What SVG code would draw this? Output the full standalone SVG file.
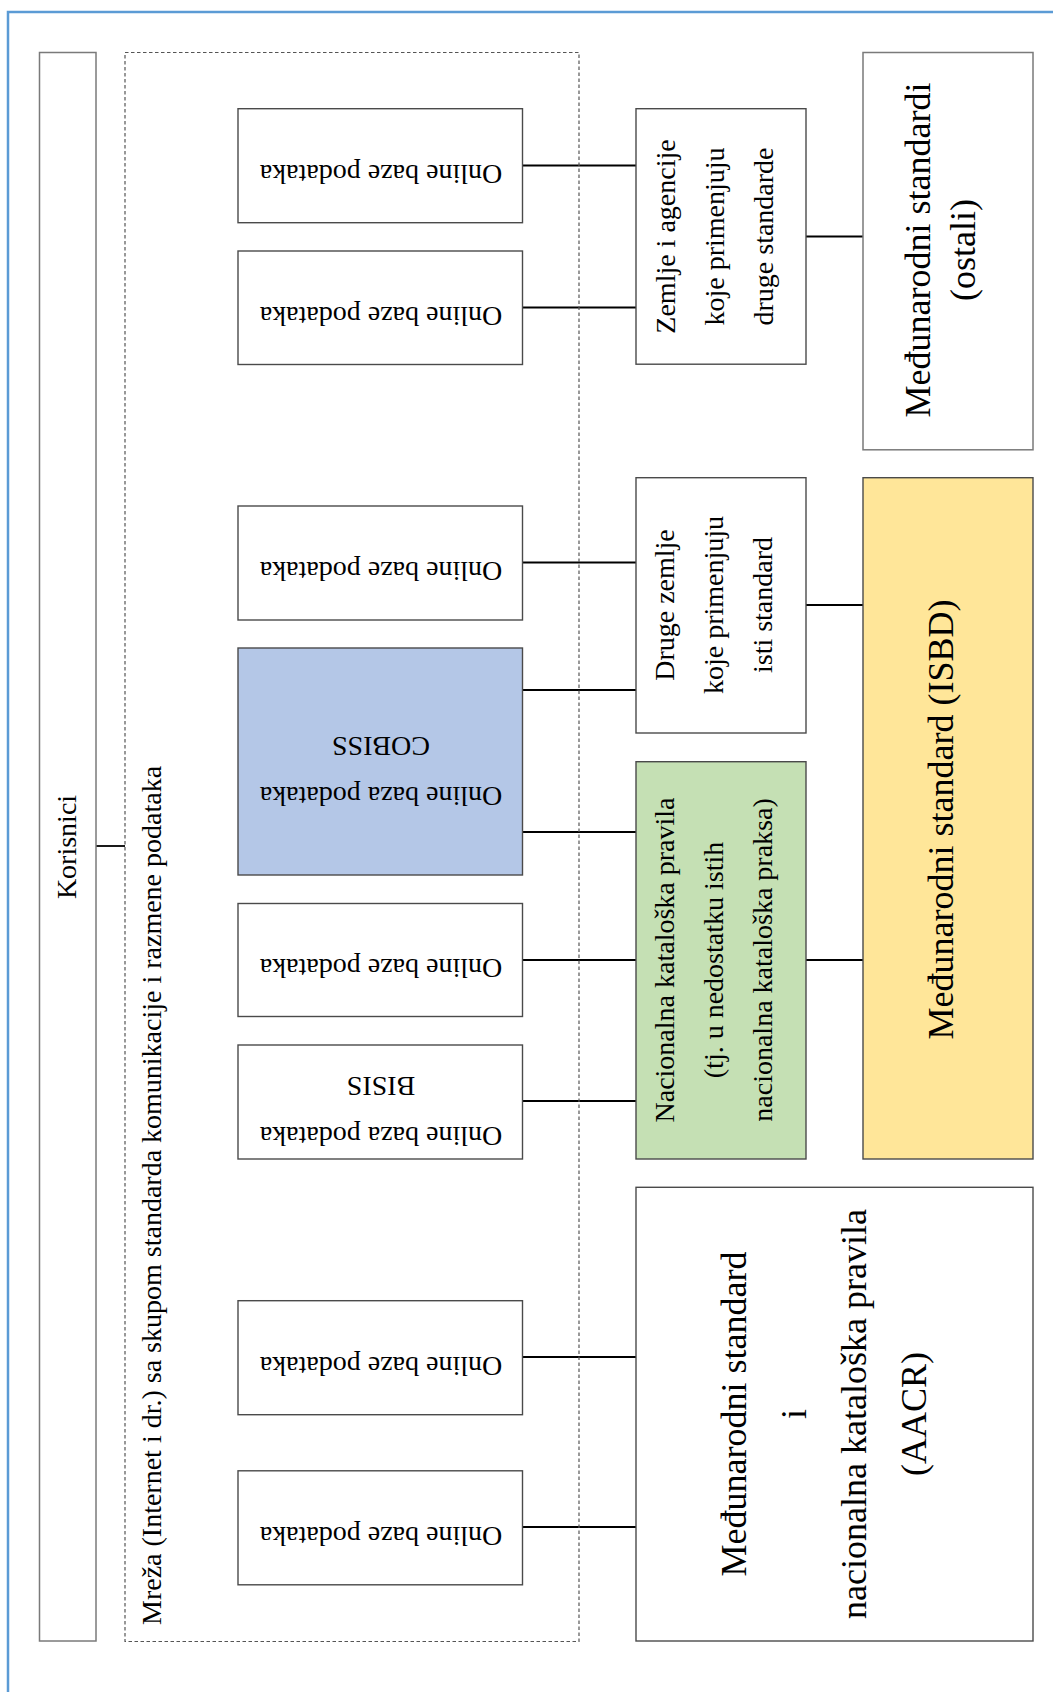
<svg xmlns="http://www.w3.org/2000/svg" width="1053" height="1692" viewBox="0 0 1053 1692">
<style>
.box{fill:#ffffff;stroke:#4a4a4a;stroke-width:1.4}
.gray{fill:#ffffff;stroke:#7a7a7a;stroke-width:1.5}
.dash{fill:none;stroke:#555555;stroke-width:1.2;stroke-dasharray:3.5 2.5}
.t{font-family:"Liberation Serif","Times New Roman",serif;fill:#000000}
.s28{font-size:28px}
.s36{font-size:36px}
.c{stroke:#000000;stroke-width:1.8;fill:none}
</style>
<rect x="0" y="0" width="1053" height="1692" fill="#ffffff"/>
<rect id="frame" x="8" y="12" width="1080" height="1720" fill="none" stroke="#5b9bd5" stroke-width="2.5"/>

<g id="connectors">
<line class="c" x1="96" y1="846" x2="125" y2="846"/>
<line class="c" x1="522.5" y1="165.5" x2="636" y2="165.5"/>
<line class="c" x1="522.5" y1="307.5" x2="636" y2="307.5"/>
<line class="c" x1="806" y1="236.5" x2="863" y2="236.5"/>
<line class="c" x1="522.5" y1="562.5" x2="636" y2="562.5"/>
<line class="c" x1="522.5" y1="690" x2="636" y2="690"/>
<line class="c" x1="806" y1="605" x2="863" y2="605"/>
<line class="c" x1="522.5" y1="832" x2="636" y2="832"/>
<line class="c" x1="522.5" y1="960" x2="636" y2="960"/>
<line class="c" x1="806" y1="960" x2="863" y2="960"/>
<line class="c" x1="522.5" y1="1101" x2="636" y2="1101"/>
<line class="c" x1="522.5" y1="1357" x2="636" y2="1357"/>
<line class="c" x1="522.5" y1="1527" x2="636" y2="1527"/>
</g>

<g id="korisnici">
<rect class="gray" x="39.5" y="52.5" width="56.5" height="1588.5"/>
<text class="t s28" text-anchor="middle" transform="translate(76,847) rotate(-90)">Korisnici</text>
</g>

<g id="mreza">
<rect class="dash" x="125" y="52.5" width="454" height="1589"/>
<text class="t s28" text-anchor="start" transform="translate(161,1625) rotate(-90)">Mreža (Internet i dr.) sa skupom standarda komunikacije i razmene podataka</text>
</g>

<g id="db1">
<rect class="box" x="238" y="108.7" width="284.5" height="114"/>
<text class="t s28" text-anchor="middle" transform="translate(381,165) rotate(180)">Online baze podataka</text>
</g>
<g id="db2">
<rect class="box" x="238" y="251" width="284.5" height="113.5"/>
<text class="t s28" text-anchor="middle" transform="translate(381,307) rotate(180)">Online baze podataka</text>
</g>
<g id="db3">
<rect class="box" x="238" y="506" width="284.5" height="114"/>
<text class="t s28" text-anchor="middle" transform="translate(381,562) rotate(180)">Online baze podataka</text>
</g>
<g id="cobiss">
<rect class="box" x="238" y="648" width="284.5" height="227" style="fill:#b4c7e7"/>
<text class="t s28" text-anchor="middle" transform="translate(381,787) rotate(180)">Online baza podataka</text>
<text class="t s28" text-anchor="middle" transform="translate(381,737) rotate(180)">COBISS</text>
</g>
<g id="db5">
<rect class="box" x="238" y="903.5" width="284.5" height="113"/>
<text class="t s28" text-anchor="middle" transform="translate(381,959) rotate(180)">Online baze podataka</text>
</g>
<g id="bisis">
<rect class="box" x="238" y="1045" width="284.5" height="114"/>
<text class="t s28" text-anchor="middle" transform="translate(381,1127) rotate(180)">Online baza podataka</text>
<text class="t s28" text-anchor="middle" transform="translate(381,1077) rotate(180)">BISIS</text>
</g>
<g id="db6">
<rect class="box" x="238" y="1300.7" width="284.5" height="114"/>
<text class="t s28" text-anchor="middle" transform="translate(381,1357) rotate(180)">Online baze podataka</text>
</g>
<g id="db7">
<rect class="box" x="238" y="1470.8" width="284.5" height="114"/>
<text class="t s28" text-anchor="middle" transform="translate(381,1527) rotate(180)">Online baze podataka</text>
</g>

<g id="zemlje">
<rect class="box" x="636" y="108.7" width="170" height="255.5"/>
<text class="t s28" text-anchor="middle" transform="translate(675,236.5) rotate(-90)">Zemlje i agencije</text>
<text class="t s28" text-anchor="middle" transform="translate(724,236.5) rotate(-90)">koje primenjuju</text>
<text class="t s28" text-anchor="middle" transform="translate(773,236.5) rotate(-90)">druge standarde</text>
</g>
<g id="druge">
<rect class="box" x="636" y="477.7" width="170" height="255.3"/>
<text class="t s28" text-anchor="middle" transform="translate(674,605) rotate(-90)">Druge zemlje</text>
<text class="t s28" text-anchor="middle" transform="translate(723,605) rotate(-90)">koje primenjuju</text>
<text class="t s28" text-anchor="middle" transform="translate(772,605) rotate(-90)">isti standard</text>
</g>
<g id="nacionalna">
<rect class="box" x="636" y="761.7" width="170" height="397.3" style="fill:#c5e0b4"/>
<text class="t s28" text-anchor="middle" transform="translate(674,960) rotate(-90)">Nacionalna kataloška pravila</text>
<text class="t s28" text-anchor="middle" transform="translate(723,960) rotate(-90)">(tj. u nedostatku istih</text>
<text class="t s28" text-anchor="middle" transform="translate(772,960) rotate(-90)">nacionalna kataloška praksa)</text>
</g>
<g id="aacr">
<rect class="box" x="636" y="1187.3" width="397" height="453.7"/>
<text class="t s36" text-anchor="middle" transform="translate(746,1414) rotate(-90)">Međunarodni standard</text>
<text class="t s36" text-anchor="middle" transform="translate(806,1414) rotate(-90)">i</text>
<text class="t s36" text-anchor="middle" transform="translate(866,1414) rotate(-90)">nacionalna kataloška pravila</text>
<text class="t s36" text-anchor="middle" transform="translate(926,1414) rotate(-90)">(AACR)</text>
</g>
<g id="ostali">
<rect class="gray" x="863" y="52.5" width="170" height="397.3"/>
<text class="t s36" text-anchor="middle" transform="translate(930,250) rotate(-90)">Međunarodni standardi</text>
<text class="t s36" text-anchor="middle" transform="translate(975,250) rotate(-90)">(ostali)</text>
</g>
<g id="isbd">
<rect class="box" x="863" y="477.7" width="170" height="681.3" style="fill:#ffe699"/>
<text class="t s36" text-anchor="middle" transform="translate(953,819.5) rotate(-90)">Međunarodni standard (ISBD)</text>
</g>
</svg>
